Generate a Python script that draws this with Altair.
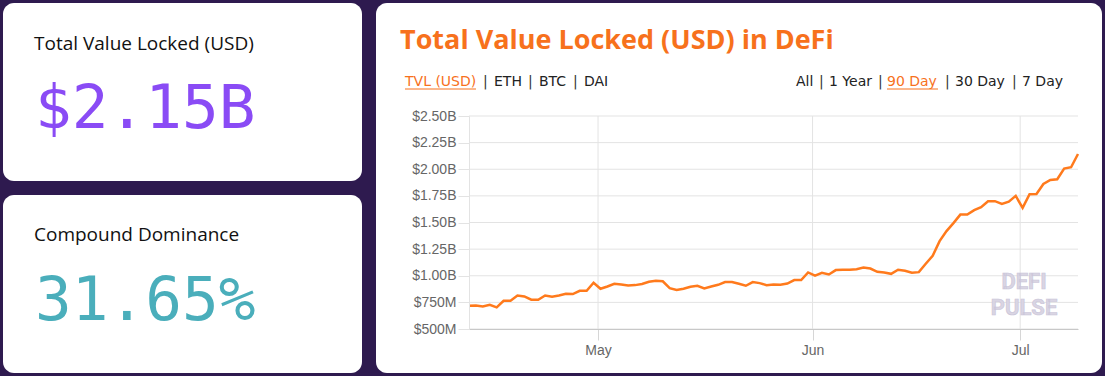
import altair as alt
import pandas as pd

# ---- data (TVL in billions USD, daily) ----
tvl = [0.718, 0.721, 0.712, 0.728, 0.703, 0.765, 0.765, 0.815, 0.806, 0.775,
       0.775, 0.815, 0.803, 0.815, 0.831, 0.828, 0.859, 0.859, 0.934, 0.878,
       0.899, 0.925, 0.918, 0.909, 0.912, 0.922, 0.943, 0.953, 0.948, 0.884,
       0.867, 0.878, 0.897, 0.906, 0.881, 0.899, 0.915, 0.941, 0.941, 0.925,
       0.906, 0.941, 0.931, 0.912, 0.918, 0.915, 0.927, 0.959, 0.959, 1.031,
       1.002, 1.028, 1.012, 1.053, 1.056, 1.056, 1.062, 1.077, 1.068, 1.037,
       1.031, 1.018, 1.056, 1.047, 1.028, 1.034, 1.112, 1.187, 1.325, 1.419,
       1.494, 1.574, 1.574, 1.616, 1.644, 1.700, 1.700, 1.675, 1.696, 1.750,
       1.637, 1.766, 1.768, 1.862, 1.900, 1.906, 2.006, 2.019, 2.143]
dates = pd.date_range("2020-04-12 08:30", periods=len(tvl), freq="D")
y_ticks = [0.5, 0.75, 1.0, 1.25, 1.5, 1.75, 2.0, 2.25, 2.5]
month_ticks = ["2020-05-01T00:00:00", "2020-06-01T00:00:00", "2020-07-01T00:00:00"]

stat_labels = ["Total Value Locked (USD)", "Compound Dominance"]
stat_values = ["$2.15B", "31.65%"]
title_text = "Total Value Locked (USD) in DeFi"
left_tabs = ["TVL (USD)", "ETH", "BTC", "DAI"]
right_tabs = ["All", "1 Year", "90 Day", "30 Day", "7 Day"]

df = pd.DataFrame({"date": dates, "tvl": tvl})
ygrid = pd.DataFrame({"tvl": y_ticks})
xgrid = pd.DataFrame({"date": pd.to_datetime(month_ticks)})
one = pd.DataFrame({"k": [0]})

BG = "#2e1a4f"
ORANGE = "#f7711c"
GRID = "#e3e3e3"
# plot origin in page pixels: (469, 116)
OX, OY = 469, 116

x_scale = alt.Scale(domain=[alt.DateTime(year=2020, month=4, date=12, hours=8, minutes=30),
                            alt.DateTime(year=2020, month=7, date=9, hours=8, minutes=30)])
y_scale = alt.Scale(domain=[0.5, 2.5], nice=False, zero=False)

x_axis = alt.Axis(values=month_ticks, format="%b", title=None,
                  grid=False, tickColor="#d6d6d6", zindex=1,
                  tickSize=11, labelPadding=3, domainColor="#c8c8c8",
                  labelColor="#666666", labelFontSize=14,
                  labelFont="Liberation Sans")
y_axis = alt.Axis(values=y_ticks, title=None, grid=False, zindex=1,
                  tickColor=GRID, labelOverlap=False,
                  tickSize=11, labelPadding=2, domainColor=GRID,
                  labelColor="#666666", labelFontSize=14,
                  labelFont="Liberation Sans",
                  labelExpr="datum.value >= 1 ? '$' + format(datum.value, '.2f') + 'B' : '$' + format(datum.value * 1000, 'd') + 'M'")


def card(x0, y0, x1, y1):
    return alt.Chart(one).mark_rect(color="white", cornerRadius=11).encode(
        x=alt.value(x0 - OX), x2=alt.value(x1 - OX),
        y=alt.value(y0 - OY), y2=alt.value(y1 - OY))


def txt(s, x, y, size, color, font, weight="normal", align="left", **kw):
    return alt.Chart(one).mark_text(
        text=s, fontSize=size, color=color, font=font, fontWeight=weight,
        align=align, baseline="alphabetic", **kw).encode(
        x=alt.value(x - OX), y=alt.value(y - OY))


def underline(x0, x1, y):
    return alt.Chart(one).mark_rule(color=ORANGE, strokeWidth=1).encode(
        x=alt.value(x0 - OX), x2=alt.value(x1 - OX), y=alt.value(y - OY))


layers = [
    card(3, 3, 362, 181),
    card(3, 195, 362, 373),
    card(376, 3, 1102, 373),
    txt(stat_labels[0], 34, 50, 19, "#111111", "Open Sans"),
    txt(stat_values[0], 35, 128, 61, "#8a4bf5", "DejaVu Sans Mono"),
    txt(stat_labels[1], 34, 241, 19, "#111111", "Open Sans"),
    txt(stat_values[1], 35, 320, 61, "#4aaebb", "DejaVu Sans Mono"),
    txt(title_text, 400, 49, 27, ORANGE, "Open Sans", weight="bold"),
]

# tab strips
tab_font = "DejaVu Sans"
tab_y = 86
left_x = [405, 494, 539, 584]
left_sep = [483, 528, 573]
right_x = [796, 829, 887, 955, 1022]
right_sep = [819, 878, 945, 1012]
for i, s in enumerate(left_tabs):
    layers.append(txt(s, left_x[i], tab_y, 14, ORANGE if i == 0 else "#222222", tab_font))
for sx in left_sep:
    layers.append(txt("|", sx, tab_y, 14, "#333333", tab_font))
for i, s in enumerate(right_tabs):
    layers.append(txt(s, right_x[i], tab_y, 14, ORANGE if s == "90 Day" else "#222222", tab_font))
for sx in right_sep:
    layers.append(txt("|", sx, tab_y, 14, "#333333", tab_font))
layers.append(underline(405, 476, 89))
layers.append(underline(887, 938, 89))

# gridlines under the line
layers.append(alt.Chart(ygrid).mark_rule(color=GRID, strokeWidth=1).encode(
    y=alt.Y("tvl:Q", scale=y_scale, axis=y_axis)))
layers.append(alt.Chart(xgrid).mark_rule(color=GRID, strokeWidth=1).encode(
    x=alt.X("date:T", scale=x_scale, axis=x_axis)))

# watermark
layers.append(txt("DEFI", 1024, 289, 22, "#d9d5e3", "Roboto", weight="bold", align="center",
                  stroke="#c9c4d8", strokeWidth=0.6))
layers.append(txt("PULSE", 1024, 315, 22, "#d9d5e3", "Roboto", weight="bold", align="center",
                  stroke="#c9c4d8", strokeWidth=0.6))

line = alt.Chart(df).mark_line(color="#ff7a1c", strokeWidth=2.5).encode(
    x=alt.X("date:T", scale=x_scale, axis=x_axis),
    y=alt.Y("tvl:Q", scale=y_scale, axis=y_axis),
)

layers.append(line)

chart = alt.layer(*layers).properties(
    width=609, height=213,
    autosize=alt.AutoSizeParams(type="none"),
    padding={"left": 469, "top": 116, "right": 27, "bottom": 47},
).configure(background=BG).configure_view(stroke=None)

chart.save("out.html", embed_options={"renderer": "svg", "actions": False})
